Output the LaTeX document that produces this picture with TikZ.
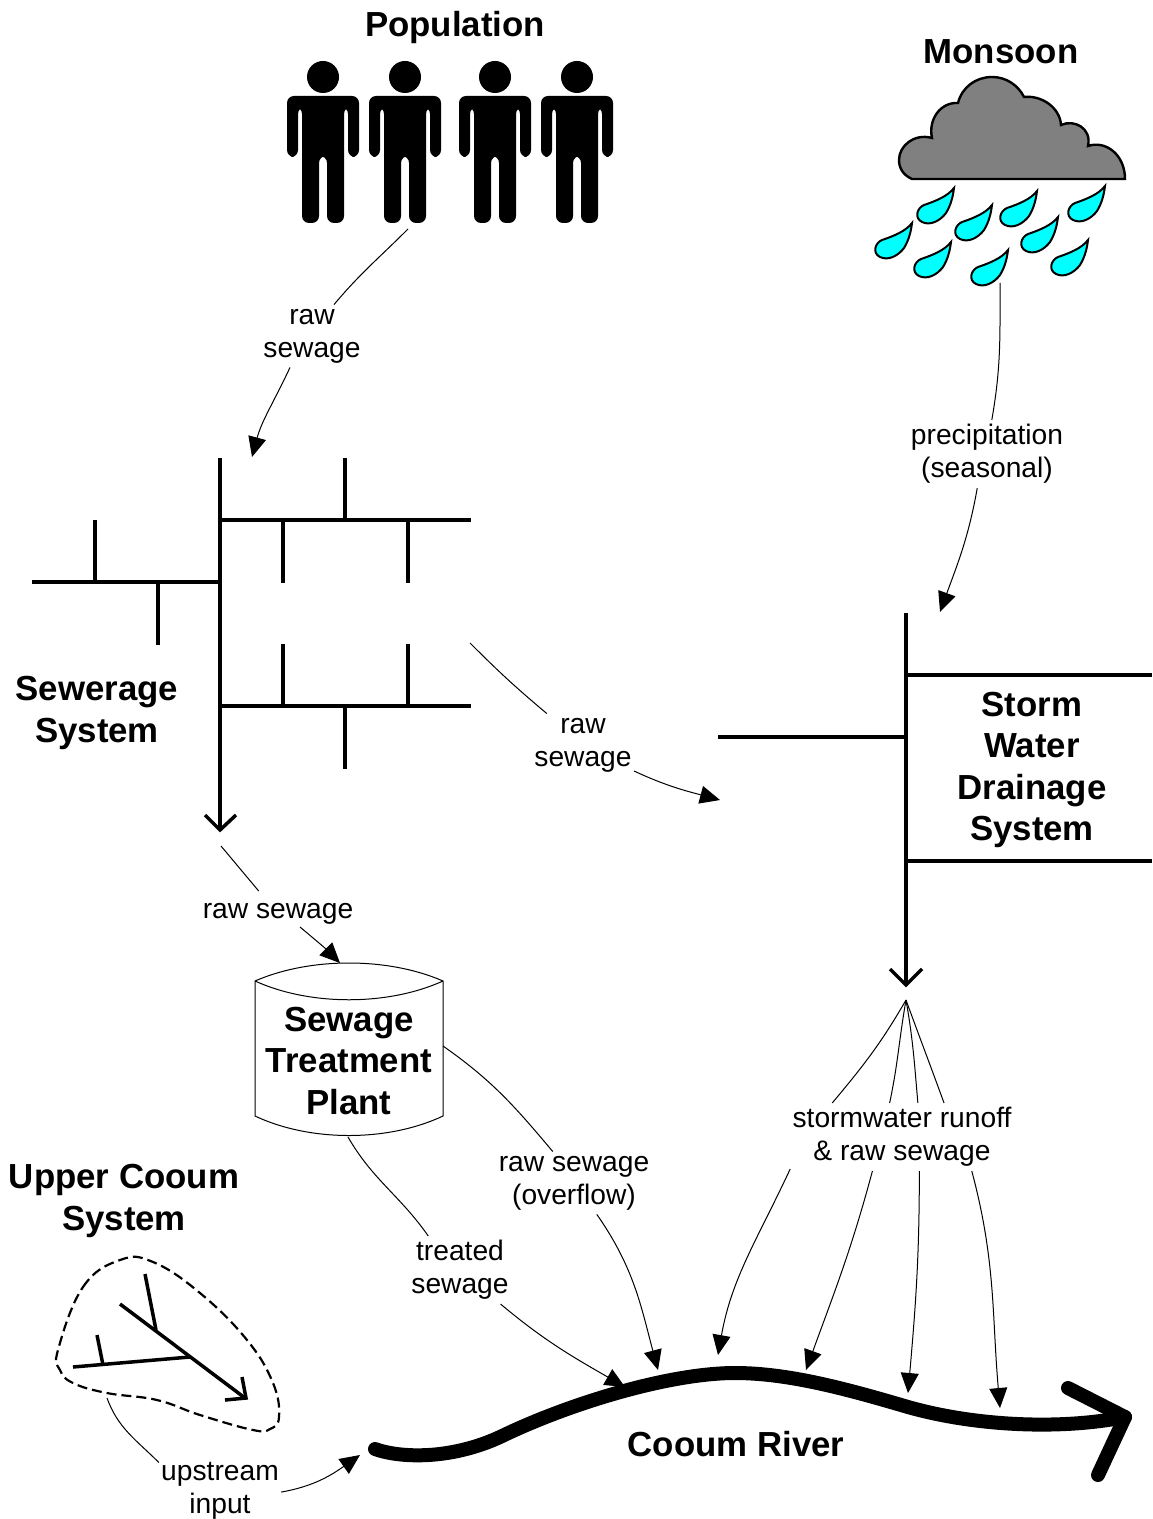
\documentclass[tikz,border=0pt]{standalone}
\usepackage{fontspec}
\setmainfont{Liberation Sans}
\usetikzlibrary{arrows.meta}

\definecolor{dropblue}{RGB}{0,255,255}
\definecolor{cloudgray}{RGB}{128,128,128}

\newcommand{\boldsize}{\fontsize{17.4pt}{20.6pt}\selectfont\bfseries}
\newcommand{\flowsize}{\fontsize{14.1pt}{16.5pt}\selectfont}

\tikzset{
	title/.style={align=center,font=\boldsize,inner sep=1pt},
	flowlabel/.style={align=center,font=\flowsize,inner xsep=1pt,inner ysep=2pt},
	flow/.style={line width=0.5pt},
	flowarrow/.style={line width=0.5pt,-{Triangle[length=10pt,width=9pt]}},
	pipe/.style={line width=1.75pt},
	river/.style={line width=7pt,line cap=round,line join=round},
	person/.pic={
		\fill (0,77) circle[radius=8pt];
		\fill[rounded corners=3.5pt] (-36,96) -- (36,96) -- (36,157) -- (25,157) -- (25,107) -- (21,107) -- (21,223) -- (4,223) -- (4,156) -- (-4,156) -- (-4,223) -- (-21,223) -- (-21,107) -- (-25,107) -- (-25,157) -- (-36,157) -- cycle;
	},
	raindrop/.pic={
		\draw[line width=1pt,fill=dropblue] (0,0) .. controls (-6,8) and (-18,13) .. (-30,17) .. controls (-37,20) and (-40,30) .. (-32,34) .. controls (-24,38) and (-14,33) .. (-8,25) .. controls (-3,17) and (-1,8) .. (0,0) -- cycle;
	}
}

\begin{document}
\begin{tikzpicture}[x=0.5pt,y=-0.5pt]
	\useasboundingbox (0,0) rectangle (1152,1519);

	% population and monsoon
	\foreach \px in {323,405,495,577}
		\pic at (\px,0) {person};
	\draw[line width=1.2pt,fill=cloudgray] (912,179) .. controls (903,175) and (899,168) .. (899,160) .. controls (899,146) and (914,133) .. (932,138)
		.. controls (928,120) and (940,102) .. (958,103)
		.. controls (962,87) and (976,77) .. (992,77) .. controls (1006,77) and (1018,85) .. (1024,97)
		.. controls (1042,95) and (1060,108) .. (1061,125)
		.. controls (1074,119) and (1092,128) .. (1088,146)
		.. controls (1106,140) and (1125,155) .. (1125,179) -- cycle;
	\foreach \dx/\dy in {954/188,912/223,992/205,951/242,1037/191,1008/250,1058/217,1105/186,1088/240}
		\pic at (\dx,\dy) {raindrop};

	% sewerage system
	\draw[pipe] (220,458) -- (220,830);
	\draw[pipe] (205,815) -- (220,830) -- (236,815);
	\draw[pipe] (220,520) -- (471,520);
	\draw[pipe] (345,458) -- (345,520);
	\draw[pipe] (283,520) -- (283,583);
	\draw[pipe] (408,520) -- (408,583);
	\draw[pipe] (32,582) -- (220,582);
	\draw[pipe] (95,520) -- (95,582);
	\draw[pipe] (158,582) -- (158,645);
	\draw[pipe] (220,706) -- (471,706);
	\draw[pipe] (283,644) -- (283,706);
	\draw[pipe] (408,644) -- (408,706);
	\draw[pipe] (345,706) -- (345,769);

	% storm water drainage
	\draw[pipe] (906,613) -- (906,985);
	\draw[pipe] (890,969) -- (906,985) -- (922,969);
	\draw[pipe] (906,675) -- (1152,675);
	\draw[pipe] (906,861) -- (1152,861);
	\draw[pipe] (718,737) -- (906,737);

	% treatment plant
	\draw[line width=0.5pt] (255,981) .. controls (310,957) and (388,957) .. (443,981) -- (443,1116) .. controls (388,1142) and (310,1142) .. (255,1116) -- cycle;
	\draw[line width=0.5pt] (255,981) .. controls (310,1006) and (388,1006) .. (443,981);

	% upper basin
	\draw[line width=1.1pt,dash pattern=on 5pt off 2.5pt] plot[smooth cycle,tension=0.7] coordinates {(58,1350) (83,1287) (120,1260) (153,1262) (200,1293) (247,1340) (273,1383) (279,1417) (270,1429) (253,1430) (200,1415) (157,1400) (107,1393) (73,1383) (60,1370)};
	\draw[pipe] (120,1304) -- (245,1398);
	\draw[pipe] (242,1377) -- (246,1398) -- (225,1400);
	\draw[pipe] (145,1274) -- (156,1330);
	\draw[pipe] (73,1367) -- (190,1357);
	\draw[pipe] (97,1335) -- (103,1365);

	% river
	\draw[river] (375,1449) .. controls (400,1458) and (450,1460) .. (500,1437) .. controls (570,1403) and (670,1373) .. (735,1373) .. controls (790,1373) and (850,1390) .. (908,1407) .. controls (975,1426) and (1060,1430) .. (1125,1417);
	\draw[river] (1068,1388) -- (1125,1417) -- (1098,1475);

	% titles
	\node[title] (population) at (455,28) {Population};
	\node[title] (monsoon) at (1001,52) {Monsoon};
	\node[title] (sewerage) at (97,713) {Sewerage\\System};
	\node[title] (storm) at (1032,770) {Storm\\Water\\Drainage\\System};
	\node[title] (plant) at (349,1061) {Sewage\\Treatment\\Plant};
	\node[title] (upper) at (124,1201) {Upper Cooum\\System};
	\node[title] (river) at (736,1444) {Cooum River};

	% flow labels
	\node[flowlabel] (1) at (312,336) {raw\\sewage};
	\node[flowlabel] (2) at (987,454) {precipitation\\(seasonal)};
	\node[flowlabel] (3) at (583,745) {raw\\sewage};
	\node[flowlabel,inner ysep=6pt] (4) at (278,914) {raw sewage};
	\node[flowlabel] (5) at (574,1183) {raw sewage\\(overflow)};
	\node[flowlabel] (6) at (460,1270) {treated\\sewage};
	\node[flowlabel,inner ysep=0pt] (7) at (220,1491) {upstream\\input};
	\node[flowlabel] (8) at (902,1137) {stormwater runoff\\\& raw sewage};

	% ends of the flows
	\coordinate (feet) at (408,229);
	\coordinate (sewertop) at (252,457);
	\coordinate (rain) at (1000,283);
	\coordinate (stormtop) at (940,612);
	\coordinate (sewerside) at (470,643);
	\coordinate (stormside) at (720,800);
	\coordinate (sewerend) at (221,846);
	\coordinate (plantout) at (300,927);
	\coordinate (plantin) at (340,963);
	\coordinate (plantside) at (443,1046);
	\coordinate (plantbase) at (348,1137);
	\coordinate (basin) at (107,1398);
	\coordinate (riverstart) at (360,1455);
	\coordinate (overflowin) at (658,1370);
	\coordinate (treatedin) at (625,1387);
	\coordinate (stormend) at (906,1000);
	\coordinate (runoffa) at (718,1355);
	\coordinate (runoffb) at (806,1370);
	\coordinate (runoffc) at (908,1393);
	\coordinate (runoffd) at (1000,1408);

	\draw[flow] (feet) to[out=225,in=50] (1.55);
	\draw[flowarrow] (1.235) to[out=245,in=75] (sewertop);
	\draw[flow] (rain) to[out=270,in=80] (2.82);
	\draw[flowarrow] (2.254) to[out=260,in=70] (stormtop);
	\draw[flow] (sewerside) to[out=-45,in=140] (3.139);
	\draw[flowarrow] (3.333) to[out=-25,in=165] (stormside);
	\draw[flow] (sewerend) to[out=-50,in=130] (4.130);
	\draw[flowarrow] (plantout) to[out=-40,in=135] (plantin);
	\draw[flow] (plantside) to[out=-35,in=130] (5.124);
	\draw[flowarrow] (5.306) to[out=-55,in=105] (overflowin);
	\draw[flow] (plantbase) to[out=-60,in=125] (6.133);
	\draw[flowarrow] (6.320) to[out=-40,in=150] (treatedin);
	\draw[flow] (basin) to[out=-70,in=135] (7.155);
	\draw[flowarrow] (7.359) to[out=10,in=215] (riverstart);
	\draw[flow] (stormend) to[out=240,in=50] (8.154);
	\draw[flow] (stormend) to[out=260,in=78] (8.110);
	\draw[flow] (stormend) to[out=-80,in=95] (8.65);
	\draw[flow] (stormend) to[out=-70,in=110] (8.39);
	\draw[flowarrow] (8.196) to[out=245,in=80] (runoffa);
	\draw[flowarrow] (8.229) to[out=255,in=70] (runoffb);
	\draw[flowarrow] (8.297) to[out=270,in=85] (runoffc);
	\draw[flowarrow] (8.334) to[out=-75,in=95] (runoffd);
\end{tikzpicture}
\end{document}
